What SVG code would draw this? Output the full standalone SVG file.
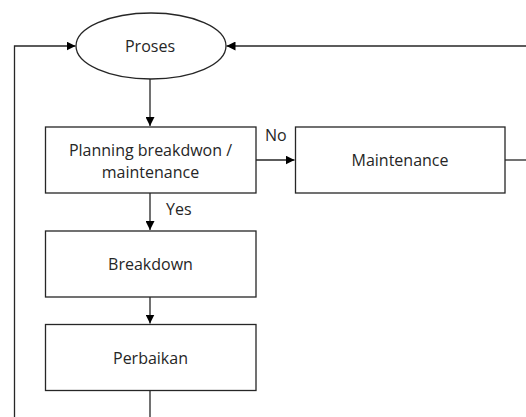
<svg xmlns="http://www.w3.org/2000/svg" width="526" height="417" viewBox="0 0 526 417">
  <style>
    .shape { fill: #ffffff; stroke: #262626; stroke-width: 1.3; }
    .edge { fill: none; stroke: #262626; stroke-width: 1.3; }
    .label { font-family: "Open Sans", "Noto Sans", "Liberation Sans", sans-serif; font-size: 16px; fill: #262626; text-anchor: middle; dominant-baseline: central; }
    .tag { font-family: "Open Sans", "Noto Sans", "Liberation Sans", sans-serif; font-size: 16px; fill: #262626; dominant-baseline: central; }
  </style>
  <defs>
    <marker id="arrow" viewBox="0 0 10 10" refX="10" refY="5" markerWidth="9" markerHeight="9" markerUnits="userSpaceOnUse" orient="auto">
      <path d="M0,0 L10,5 L0,10 Z" fill="#000000"/>
    </marker>
  </defs>

  <!-- connectors -->
  <g id="connectors">
    <path class="edge" d="M150,79 V126" marker-end="url(#arrow)"/>
    <path class="edge" d="M256,160 H294.5" marker-end="url(#arrow)"/>
    <path class="edge" d="M150,193 V230" marker-end="url(#arrow)"/>
    <path class="edge" d="M150,297 V323.5" marker-end="url(#arrow)"/>
    <!-- loop back from Perbaikan along the left side -->
    <path class="edge" d="M150,390.5 V418"/>
    <path class="edge" d="M14.5,418 V46 H75.5" marker-end="url(#arrow)"/>
    <!-- loop back from Maintenance along the right side -->
    <path class="edge" d="M505,160 H527"/>
    <path class="edge" d="M527,46 H226.5" marker-end="url(#arrow)"/>
    <text class="tag" x="265" y="135">No</text>
    <text class="tag" x="166" y="209">Yes</text>
  </g>

  <g id="proses">
    <ellipse class="shape" cx="151" cy="46" rx="75" ry="33"/>
    <text class="label" x="150" y="46">Proses</text>
  </g>

  <g id="planning">
    <rect class="shape" x="45.5" y="127" width="210.5" height="66"/>
    <text class="label" x="150.5" y="150">Planning breakdwon /</text>
    <text class="label" x="150.5" y="172">maintenance</text>
  </g>

  <g id="maintenance">
    <rect class="shape" x="295.5" y="127" width="209.5" height="66"/>
    <text class="label" x="400" y="160">Maintenance</text>
  </g>

  <g id="breakdown">
    <rect class="shape" x="45.5" y="231" width="210.5" height="66"/>
    <text class="label" x="150.5" y="264">Breakdown</text>
  </g>

  <g id="perbaikan">
    <rect class="shape" x="45.5" y="324.5" width="210.5" height="66"/>
    <text class="label" x="150.5" y="357.5">Perbaikan</text>
  </g>
</svg>
